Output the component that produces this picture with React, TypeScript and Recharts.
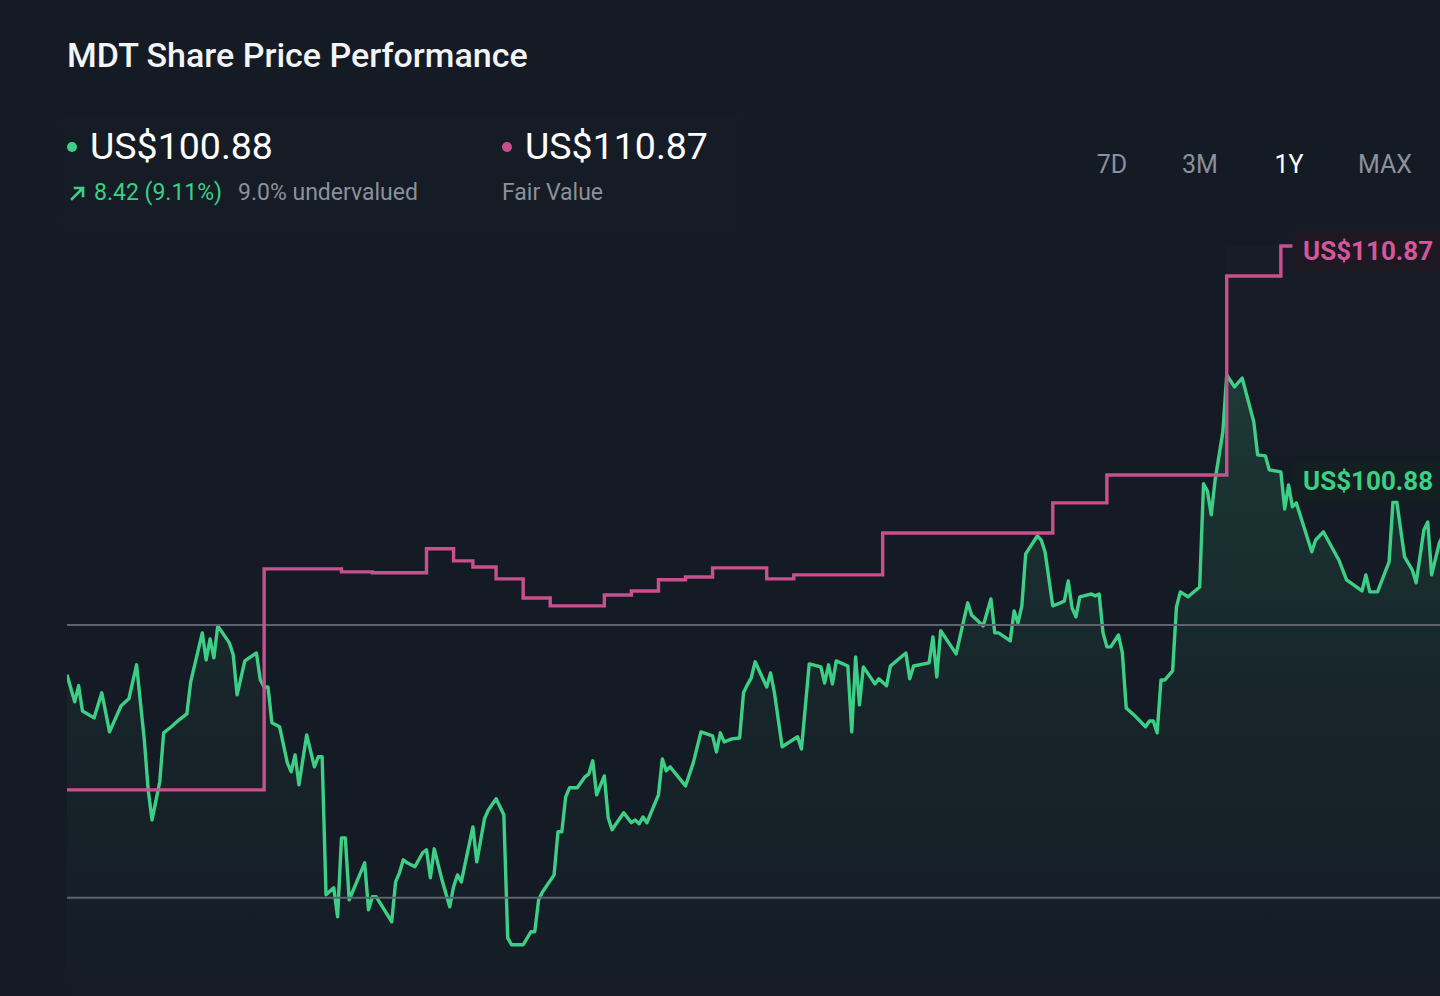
import React from "react";
import {
  ComposedChart,
  Area,
  Line,
  XAxis,
  YAxis,
  ReferenceLine,
  ReferenceArea
} from "recharts";

// price, by day of the 1Y window (day 0 = start)
const PRICE_DAYS = [
  0, 2, 3, 4, 7, 9, 11, 14, 16, 18, 20, 21, 22, 24, 25, 27, 29, 31, 32, 35,
  36, 37, 38, 39, 42, 43, 44, 46, 49, 50, 51, 52, 53, 55, 57, 58, 59, 60, 62, 64,
  65, 66, 67, 69, 70, 71, 72, 73, 77, 78, 79, 80, 84, 85, 86, 87, 88, 90, 92, 93,
  94, 95, 97, 99, 100, 101, 102, 105, 106, 108, 109, 111, 113, 114, 115, 118, 120, 121, 122, 123,
  126, 127, 128, 129, 130, 132, 134, 135, 136, 137, 139, 140, 141, 144, 146, 147, 148, 149, 150, 153,
  154, 155, 156, 160, 162, 164, 167, 168, 169, 170, 172, 174, 175, 176, 177, 178, 181, 182, 183, 185,
  189, 190, 192, 195, 196, 197, 198, 199, 202, 203, 204, 205, 206, 209, 210, 212, 213, 217, 218, 219,
  223, 224, 225, 226, 230, 233, 234, 237, 239, 240, 241, 244, 245, 246, 247, 248, 251, 252, 253, 255,
  257, 258, 259, 260, 261, 262, 265, 266, 267, 268, 269, 270, 272, 273, 274, 276, 279, 280, 281, 282,
  283, 284, 286, 287, 288, 290, 293, 294, 295, 296, 297, 299, 300, 302, 304, 307, 308, 310, 311, 314,
  315, 316, 317, 318, 322, 323, 325, 328, 329, 331, 335, 336, 337, 339, 342, 343, 344, 346, 348, 349,
  351, 352, 353, 355, 358, 361, 365
];

const PRICES = [
  92.46, 91.3, 91.99, 90.91, 90.61, 91.69, 90.01, 91.13, 91.43, 92.89, 89.67, 87.52, 86.23, 87.87, 89.97, 90.23, 90.53, 90.78, 92.16, 94.26,
  93.1, 94.0, 93.19, 94.56, 93.83, 93.32, 91.6, 93.06, 93.4, 92.24, 91.94, 91.94, 90.4, 90.23, 88.68, 88.3, 89.02, 87.74, 89.88, 88.51,
  88.94, 88.94, 83.02, 83.32, 82.07, 85.46, 85.46, 82.8, 84.39, 82.37, 82.93, 82.93, 81.86, 83.57, 83.96, 84.52, 84.39, 84.22, 84.82, 84.95,
  83.75, 84.99, 83.66, 82.5, 83.36, 83.87, 83.57, 85.93, 84.43, 86.28, 86.66, 87.14, 86.45, 81.17, 80.87, 80.87, 81.43, 81.43, 82.8, 83.14,
  83.87, 85.72, 85.72, 87.22, 87.61, 87.61, 88.08, 88.21, 88.77, 87.31, 88.12, 86.32, 85.81, 86.54, 86.11, 86.23, 86.06, 86.36, 86.11, 87.31,
  88.85, 88.34, 88.51, 87.69, 88.68, 90.01, 89.84, 89.15, 89.97, 89.58, 89.71, 89.75, 91.69, 92.03, 92.33, 93.02, 91.94, 92.54, 91.69, 89.37,
  89.8, 89.28, 92.93, 92.8, 92.11, 92.89, 92.07, 93.06, 92.84, 90.01, 93.23, 91.17, 92.8, 92.07, 92.29, 91.99, 92.84, 93.4, 92.29, 92.84,
  92.97, 94.09, 92.37, 94.35, 93.36, 95.55, 95.03, 94.56, 95.72, 94.26, 94.26, 93.92, 95.2, 94.69, 95.42, 97.65, 98.42, 98.25, 97.74, 95.42,
  95.55, 95.63, 96.49, 95.33, 94.95, 95.81, 95.93, 95.85, 95.93, 94.26, 93.66, 93.66, 94.17, 93.4, 91.04, 90.74, 90.23, 90.48, 90.48, 89.97,
  92.24, 92.24, 92.63, 95.38, 96.02, 95.81, 96.23, 100.66, 100.35, 99.33, 100.83, 102.89, 105.33, 104.82, 105.2, 103.32, 101.9, 101.86, 101.26, 101.17,
  99.58, 100.61, 99.67, 99.84, 97.74, 98.25, 98.6, 97.69, 97.39, 96.54, 96.06, 96.75, 96.02, 96.02, 97.31, 99.88, 99.88, 97.52, 96.96, 96.41,
  98.68, 99.02, 96.75, 98.12, 99.2, 98.6, 100.88
];

// fair value estimate changes (step line)
const FAIR_DAYS = [0, 51, 71, 79, 93, 100, 105, 111, 118, 125, 139, 146, 153, 160, 167, 181, 188, 211, 255, 269, 300, 314, 317];
const FAIR_VALUES = [
  87.52, 97.01, 96.88, 96.84, 97.87, 97.35, 97.09, 96.58, 95.76, 95.42, 95.89, 96.06,
  96.54, 96.66, 97.05, 96.58, 96.75, 98.55, 99.84, 101.04, 109.58, 110.87, 110.87
];

const GUIDE_LEVELS = [94.6, 82.89];
const TIMEFRAMES = ["7D", "3M", "1Y", "MAX"];
const ACTIVE_TIMEFRAME = "1Y";

const LAST_PRICE = PRICES[PRICES.length - 1];
const FIRST_PRICE = PRICES[0];
const FAIR_VALUE = FAIR_VALUES[FAIR_VALUES.length - 1];

const GREEN = "#3ccf85";
const PINK = "#c8508e";
const PINK_TEXT = "#d4579b";
const GREY = "#8a919b";
const BG = "#151b25";
const FONT = "Roboto, 'Noto Sans', sans-serif";

const priceData = PRICE_DAYS.map((day, i) => ({ day, price: PRICES[i] }));
const fairData = FAIR_DAYS.map((day, i) => ({ day, fair: FAIR_VALUES[i] }));

const fmt = (v: number) => `US$${v.toFixed(2)}`;

const EndLabel = (props: any) => {
  const { viewBox, text, color, box, offset } = props;
  if (!viewBox) return null;
  const cy = viewBox.y + offset;
  return (
    <g>
      <rect x={1293} y={cy - 20} width={220} height={40} rx={6} fill={box} />
      <text
        x={1303}
        y={cy}
        dy="0.36em"
        fill={color}
        fontSize={26}
        fontWeight={700}
        fontFamily={FONT}
      >
        {text}
      </text>
    </g>
  );
};

function Header() {
  const change = LAST_PRICE - FIRST_PRICE;
  const changePct = (change / FIRST_PRICE) * 100;
  const undervalued = ((FAIR_VALUE - LAST_PRICE) / FAIR_VALUE) * 100;
  const abs = (top: number, left: number, extra: React.CSSProperties = {}): React.CSSProperties => ({
    position: "absolute",
    top,
    left,
    lineHeight: 1,
    whiteSpace: "nowrap",
    ...extra
  });

  return (
    <>
      <div style={abs(38, 67, { fontSize: 34, fontWeight: 500, color: "#f3f4f6" })}>
        MDT Share Price Performance
      </div>

      <div style={{ position: "absolute", left: 62, top: 116, width: 680, height: 110, background: "rgba(255,255,255,0.008)", borderRadius: 6 }} />

      <div style={{ position: "absolute", left: 67, top: 142, width: 10, height: 10, borderRadius: 5, background: GREEN }} />
      <div style={abs(128, 90, { fontSize: 37.5, color: "#ffffff" })}>{fmt(LAST_PRICE)}</div>

      <svg style={{ position: "absolute", left: 69, top: 184 }} width={18} height={18} viewBox="0 0 18 18">
        <path d="M3 15 L14 4 M6 4 H14 V12" stroke={GREEN} strokeWidth={2.6} fill="none" strokeLinecap="square" />
      </svg>
      <div style={abs(181, 94, { fontSize: 23, color: GREEN })}>
        {`${change.toFixed(2)} (${changePct.toFixed(2)}%)`}
      </div>
      <div style={abs(181, 238, { fontSize: 23, color: GREY })}>
        {`${undervalued.toFixed(1)}% undervalued`}
      </div>

      <div style={{ position: "absolute", left: 502, top: 142, width: 10, height: 10, borderRadius: 5, background: PINK }} />
      <div style={abs(128, 525, { fontSize: 37.5, color: "#ffffff" })}>{fmt(FAIR_VALUE)}</div>
      <div style={abs(181, 502, { fontSize: 23, color: GREY })}>Fair Value</div>

      {TIMEFRAMES.map((t, i) => (
        <div
          key={t}
          style={abs(152, [1112, 1200, 1289, 1385][i], {
            fontSize: 25,
            color: t === ACTIVE_TIMEFRAME ? "#ffffff" : GREY,
            transform: "translateX(-50%)"
          })}
        >
          {t}
        </div>
      ))}
    </>
  );
}

export default function App() {
  return (
    <div
      style={{
        position: "fixed",
        left: 0,
        top: 0,
        width: 1440,
        height: 996,
        overflow: "hidden",
        background: BG,
        fontFamily: FONT
      }}
    >
      <div style={{ position: "absolute", left: 0, top: 0 }}>
        <ComposedChart width={1478} height={1000} margin={{ top: 126.5, right: 0, bottom: 0, left: 67 }}>
          <defs>
            <linearGradient id="priceFill" x1="0" y1="0" x2="0" y2="1">
              <stop offset="0%" stopColor={GREEN} stopOpacity={0.28} />
              <stop offset="55%" stopColor={GREEN} stopOpacity={0.08} />
              <stop offset="100%" stopColor={GREEN} stopOpacity={0.01} />
            </linearGradient>
            <linearGradient id="zoneFill" x1="0" y1="0" x2="0" y2="1">
              <stop offset="0%" stopColor="#b45a9a" stopOpacity={0.04} />
              <stop offset="100%" stopColor="#b45a9a" stopOpacity={0} />
            </linearGradient>
          </defs>
          <XAxis type="number" dataKey="day" domain={[0, 365]} hide allowDataOverflow />
          <YAxis type="number" domain={[78.5, 116]} hide allowDataOverflow />

          <ReferenceArea x1={300} x2={365} y1={LAST_PRICE} y2={FAIR_VALUE} fill="url(#zoneFill)" stroke="none" />

          {GUIDE_LEVELS.map((lv) => (
            <ReferenceLine key={lv} y={lv} stroke="#5d6470" strokeWidth={2} />
          ))}

          <Area
            data={priceData}
            type="linear"
            dataKey="price"
            stroke={GREEN}
            strokeWidth={3.4}
            strokeLinejoin="round"
            fill="url(#priceFill)"
            dot={false}
            activeDot={false}
            isAnimationActive={false}
          />
          <Line
            data={fairData}
            type="stepAfter"
            dataKey="fair"
            stroke={PINK}
            strokeWidth={3.4}
            dot={false}
            activeDot={false}
            isAnimationActive={false}
          />

          <ReferenceLine
            y={FAIR_VALUE}
            stroke="none"
            label={(p: any) => (
              <EndLabel {...p} text={fmt(FAIR_VALUE)} color={PINK_TEXT} box="rgba(32,24,34,0.92)" offset={5} />
            )}
          />
          <ReferenceLine
            y={LAST_PRICE}
            stroke="none"
            label={(p: any) => (
              <EndLabel {...p} text={fmt(LAST_PRICE)} color={GREEN} box="rgba(20,32,34,0.85)" offset={2} />
            )}
          />
        </ComposedChart>
      </div>
      <Header />
    </div>
  );
}
